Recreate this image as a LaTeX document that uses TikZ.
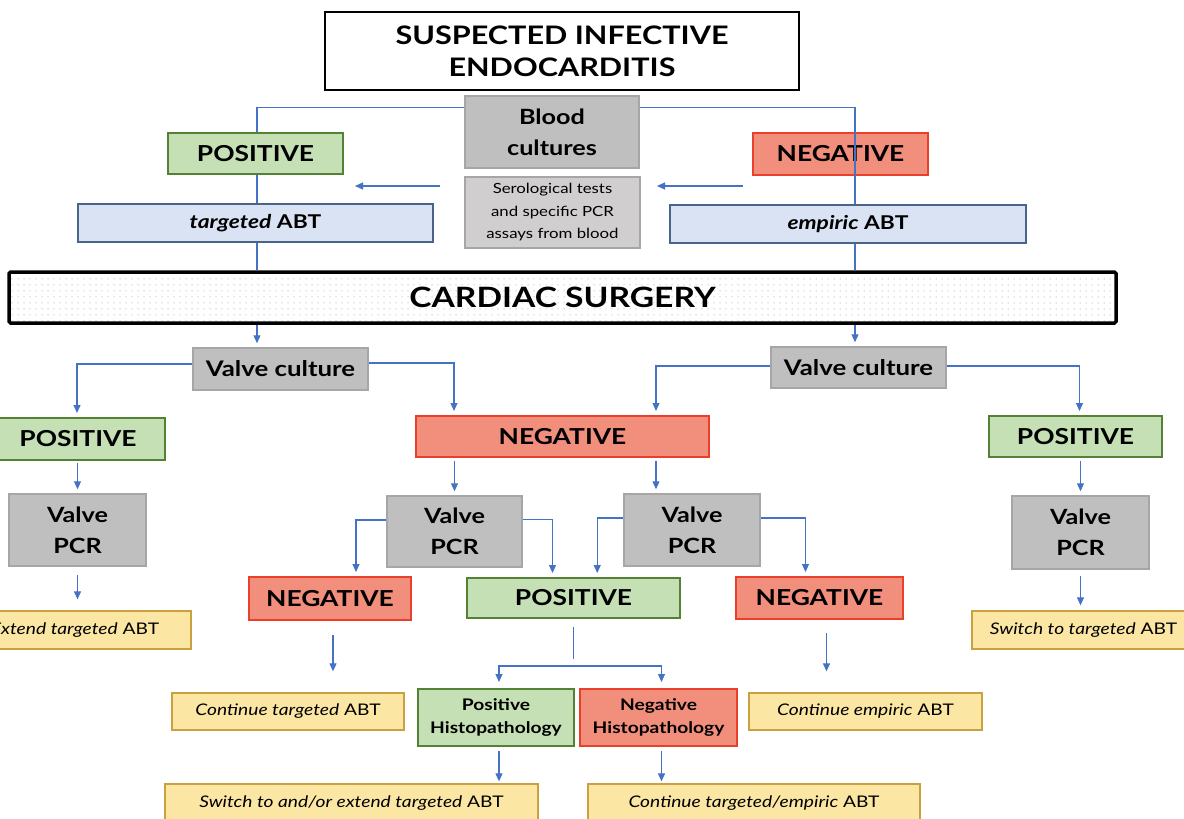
\documentclass[tikz,border=0pt]{standalone}
\usepackage{fontspec}
\setmainfont{Lato}[FakeStretch=1.2]
\usetikzlibrary{patterns.meta,calc,arrows.meta}
\definecolor{lnk}{HTML}{4472C4}
\definecolor{grnF}{HTML}{C5E0B4}
\definecolor{grnD}{HTML}{548235}
\definecolor{redF}{HTML}{F28E7C}
\definecolor{redD}{HTML}{E8402A}
\definecolor{grayF}{HTML}{BFBFBF}
\definecolor{grayD}{HTML}{A6A6A6}
\definecolor{seroF}{HTML}{D0CECE}
\definecolor{blueF}{HTML}{DAE3F3}
\definecolor{blueD}{HTML}{4A6388}
\definecolor{ylwF}{HTML}{FBE6A3}
\definecolor{ylwD}{HTML}{C9A23F}
\newcommand\fsz[2]{\fontsize{#1}{#2}\selectfont}
\newcommand\bx[7]{\node[#2, minimum width={#5-#3}, minimum height={#6-#4}] (#1) at ({(#3+#5)/2},{(#4+#6)/2}) {#7};}
\tikzset{
  box/.style={draw, inner sep=0pt, align=center, text=black},
  titlebox/.style={box, draw=black, line width=2.5pt, fill=white, font=\bfseries\fsz{25.5}{32}},
  grnbox/.style={box, fill=grnF, draw=grnD, line width=2pt, font=\bfseries\fsz{22}{26}},
  redbox/.style={box, fill=redF, draw=redD, line width=2pt, font=\bfseries\fsz{22}{26}},
  histo/.style={font=\bfseries\fsz{16}{23}},
  graybox/.style={box, fill=grayF, draw=grayD, line width=1.5pt, font=\bfseries\fsz{21}{31}},
  vcult/.style={font=\bfseries\fsz{21.5}{26}},
  serobox/.style={box, fill=seroF, draw=grayD, line width=1.5pt, font=\fsz{14}{22.5}},
  bluebox/.style={box, fill=blueF, draw=blueD, line width=1.3pt, font=\bfseries\fsz{19}{22}},
  ylwbox/.style={box, fill=ylwF, draw=ylwD, line width=1.3pt, font=\fsz{16}{20}},
  surgbox/.style={box, draw=black, line width=3.5pt, rounded corners=1.5pt, font=\bfseries\fsz{28}{30},
    preaction={fill=white}, pattern={Dots[distance=6pt, radius=0.5pt]}, pattern color=black!45},
  ln/.style={draw=lnk, line width=1.1pt},
  arr/.style={ln, -{Triangle[length=8pt,width=7pt]}, shorten >=4pt},
}
\begin{document}
\begin{tikzpicture}[x=1pt,y=-1pt]
\clip (0,0) rectangle (1184,819);
\fill[white] (0,0) rectangle (1184,819);
% nodes
\bx{title}{titlebox}{325}{12}{799}{90}{SUSPECTED INFECTIVE\\ENDOCARDITIS}
\bx{bc}{graybox}{465}{96}{639}{168}{Blood\\cultures}
\bx{sero}{serobox}{465}{177}{640}{248}{Serological tests\\and specific PCR\\assays from blood}
\bx{pos1}{grnbox}{168}{133}{343}{174}{POSITIVE}
\bx{neg1}{redbox}{753}{133}{928}{175}{NEGATIVE}
\bx{tabt}{bluebox}{78}{204}{433}{242}{\textit{targeted} ABT}
\bx{eabt}{bluebox}{670}{205}{1026}{243}{\textit{empiric} ABT}
\bx{cs}{surgbox}{9}{272}{1116}{323}{CARDIAC SURGERY}
\bx{vc1}{graybox, vcult}{193}{348}{368}{390}{Valve culture}
\bx{vc2}{graybox, vcult}{771}{347}{946}{388}{Valve culture}
\bx{pos2}{grnbox}{-9}{418}{165}{460}{POSITIVE}
\bx{neg2}{redbox}{416}{416}{709}{457}{NEGATIVE}
\bx{pos3}{grnbox}{989}{416}{1162}{457}{POSITIVE}
\bx{vp1}{graybox}{9}{494}{146}{566}{Valve\\PCR}
\bx{vp2}{graybox}{387}{496}{522}{567}{Valve\\PCR}
\bx{vp3}{graybox}{624}{494}{760}{566}{Valve\\PCR}
\bx{vp4}{graybox}{1012}{496}{1149}{569}{Valve\\PCR}
\bx{ext1}{ylwbox}{-41}{611}{191}{649}{\textit{Extend targeted} ABT}
\bx{sw2}{ylwbox}{972}{611}{1195}{649}{\textit{Switch to targeted} ABT}
\bx{neg3}{redbox}{249}{577}{411}{620}{NEGATIVE}
\bx{pos4}{grnbox}{467}{578}{680}{618}{POSITIVE}
\bx{neg4}{redbox}{736}{577}{903}{619}{NEGATIVE}
\bx{cont1}{ylwbox}{172}{693}{404}{730}{\textit{Continue targeted} ABT}
\bx{cont2}{ylwbox}{749}{693}{982}{730}{\textit{Continue empiric} ABT}
\bx{ph}{grnbox, histo}{418}{689}{574}{746}{Positive\\Histopathology}
\bx{nh}{redbox, histo}{580}{689}{737}{746}{Negative\\Histopathology}
\bx{sw}{ylwbox}{165}{784}{538}{822}{\textit{Switch to and/or extend targeted} ABT}
\bx{cont3}{ylwbox}{588}{784}{920}{822}{\textit{Continue targeted/empiric} ABT}
% free coordinates
\coordinate (la1) at (440,186);
\coordinate (la2) at (355,186);
\coordinate (ra1) at (743,186);
\coordinate (ra2) at (657,186);
\coordinate (split) at (574,666);
% connectors
\draw[ln] (bc.north west) ++(0,12) -| ([xshift=1.5pt]pos1.north);
\draw[ln] ([xshift=1.5pt]pos1.south) -- ([xshift=1.5pt]tabt.north);
\draw[ln] ([xshift=1.5pt]tabt.south) -- ([xshift=1.5pt]tabt.south |- cs.north);
\draw[ln] (bc.north east) ++(0,12) -| ([xshift=7pt]eabt.north);
\draw[ln] ([xshift=7pt]eabt.south) -- ([xshift=7pt]eabt.south |- cs.north);
\draw[arr, shorten >=0pt] (la1) -- (la2);
\draw[arr, shorten >=0pt] (ra1) -- (ra2);
\draw[arr] ([xshift=1.5pt]tabt.south |- cs.south) -- ([xshift=1.5pt]tabt.south |- vc1.north);
\draw[arr] ([xshift=7pt]eabt.south |- cs.south) -- ([xshift=7pt]eabt.south |- vc2.north);
\draw[arr] ([yshift=5pt]vc1.west) -| ([xshift=-1pt]pos2.north);
\draw[arr] ([yshift=6pt]vc1.east) -| ([xshift=39pt]neg2.north west);
\draw[arr] ([yshift=1.5pt]vc2.west) -| ([xshift=-54pt]neg2.north east);
\draw[arr] ([yshift=1.5pt]vc2.east) -| ([xshift=4pt]pos3.north);
\draw[arr, shorten <=2pt] (pos2.south -| vp1.north) -- (vp1.north);
\draw[arr, shorten <=8pt, shorten >=11pt] (vp1.south) -- (vp1.south |- ext1.north);
\draw[arr, shorten <=3pt] (neg2.south -| vp2.north) -- (vp2.north);
\draw[arr, shorten <=3pt] ([xshift=-54pt]neg2.south east) -- ([xshift=-54pt]neg2.south east |- vp3.north);
\draw[arr] ([yshift=11.5pt]vp2.west) -| ([xshift=26pt]neg3.north);
\draw[arr] ([yshift=12pt]vp2.east) -| ([xshift=-21pt]pos4.north);
\draw[arr] ([yshift=12pt]vp3.west) -| ([xshift=-26pt]vp3.west |- pos4.north);
\draw[arr] ([yshift=12pt]vp3.east) -| ([xshift=-14pt]neg4.north);
\draw[arr, shorten <=14pt, shorten >=21pt] ([xshift=3pt]neg3.south) -- ([xshift=3pt]neg3.south |- cont1.north);
\draw[arr, shorten <=13pt, shorten >=21pt] ([xshift=7pt]neg4.south) -- ([xshift=7pt]neg4.south |- cont2.north);
\draw[ln, shorten <=8pt, shorten >=7pt] (pos4.south) -- (pos4.south |- split);
\draw[arr, shorten >=6pt] (split) -| ([xshift=3pt]ph.north);
\draw[arr, shorten >=6pt] (split) -| ([xshift=3pt]nh.north);
\draw[arr, shorten <=4pt, shorten >=2pt] ([xshift=3pt]ph.south) -- ([xshift=3pt]ph.south |- sw.north);
\draw[arr, shorten <=4pt, shorten >=2pt] ([xshift=3pt]nh.south) -- ([xshift=3pt]nh.south |- cont3.north);
\draw[arr, shorten <=3pt] (pos3.south -| vp4.north) -- (vp4.north);
\draw[arr, shorten <=6pt, shorten >=5pt] (vp4.south) -- (vp4.south |- sw2.north);
\end{tikzpicture}
\end{document}
